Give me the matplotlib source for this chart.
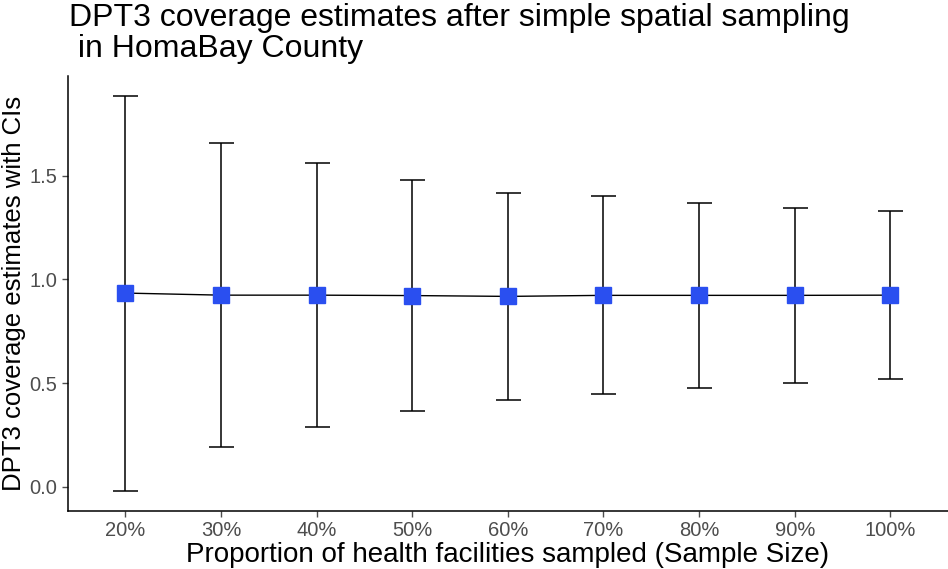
import matplotlib
matplotlib.use("Agg")
import matplotlib.pyplot as plt

plt.rcParams['font.family'] = ['Liberation Sans', 'DejaVu Sans']

labels = ["20%", "30%", "40%", "50%", "60%", "70%", "80%", "90%", "100%"]
estimate = [0.934, 0.924, 0.924, 0.922, 0.918, 0.923, 0.923, 0.923, 0.924]
lower = [-0.021, 0.194, 0.289, 0.364, 0.419, 0.446, 0.478, 0.502, 0.521]
upper = [1.885, 1.656, 1.562, 1.480, 1.418, 1.401, 1.369, 1.345, 1.329]

fig = plt.figure(figsize=(9.48, 5.69), dpi=100)
ax = fig.add_axes([0.0717, 0.102, 0.928, 0.7644])

x = list(range(len(labels)))
err_lo = [e - l for e, l in zip(estimate, lower)]
err_hi = [u - e for e, u in zip(estimate, upper)]

ax.errorbar(x, estimate, yerr=[err_lo, err_hi], fmt='none', ecolor='black',
            elinewidth=1.1, capsize=9, capthick=1.1, zorder=2)
ax.plot(x, estimate, color='black', linewidth=1.0, zorder=3)
ax.plot(x, estimate, linestyle='none', marker='s', markersize=11,
        color='#2a4ff0', zorder=4)

ax.set_xlim(-0.6, len(labels) - 1 + 0.6)
ax.set_ylim(-0.116, 1.98)
ax.set_xticks(x)
ax.set_xticklabels(labels)
ax.set_yticks([0.0, 0.5, 1.0, 1.5])
ax.set_yticklabels(["0.0", "0.5", "1.0", "1.5"])

for s in ['top', 'right']:
    ax.spines[s].set_visible(False)
for s in ['left', 'bottom']:
    ax.spines[s].set_linewidth(1.1)
    ax.spines[s].set_color('black')

ax.tick_params(axis='both', colors='#4d4d4d', labelsize=14.5, length=4, width=1.0)
ax.tick_params(axis='both', labelcolor='#4d4d4d')

ax.set_xlabel("Proportion of health facilities sampled (Sample Size)", fontsize=20, labelpad=1)
ax.set_ylabel("DPT3 coverage estimates with CIs", fontsize=18.5, labelpad=3)

fig.text(0.073, 0.995, "DPT3 coverage estimates after simple spatial sampling\n in HomaBay County",
         fontsize=23, ha='left', va='top', linespacing=1.05)

fig.savefig("out.png", dpi=100)
